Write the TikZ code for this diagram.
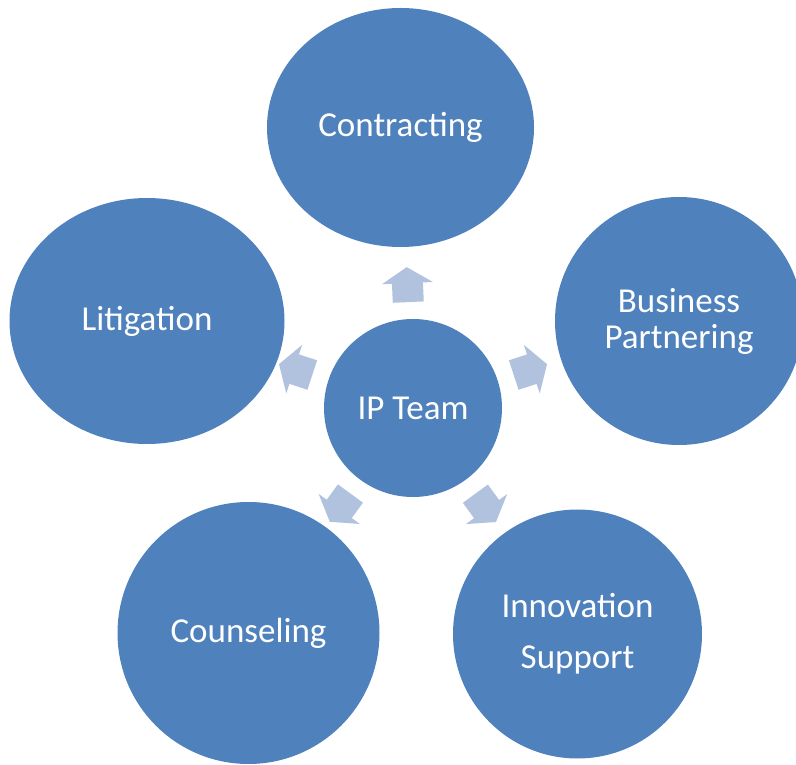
\documentclass[tikz,border=0pt]{standalone}
\usepackage{fontspec}
\setmainfont{Carlito}
\usetikzlibrary{shapes.geometric,calc}
\definecolor{bubblefill}{RGB}{79,129,189}
\definecolor{arrowfill}{RGB}{176,194,222}
\begin{document}
\begin{tikzpicture}[x=1pt,y=1pt,
    bubble/.style={fill=bubblefill,text=white,inner sep=0pt,align=center,
      font=\fontsize{35}{36}\selectfont},
    round/.style={bubble,circle,minimum size=#1},
    oval/.style={bubble,ellipse}]
  \clip (0,0) rectangle (796,764);
  \node[round=178pt] (team) at (413,356) {IP Team};
  \node[oval,minimum width=267pt,minimum height=239pt] (contr) at (400.5,636.5) {Contracting};
  \node[round=248pt] (busi) at (679,443) {Business\\Partnering};
  \node[round=249pt] (innov) at (577.5,130) {Innovation\\[15pt]Support};
  \node[round=262pt] (couns) at (248.5,131) {Counseling};
  \node[oval,minimum width=275pt,minimum height=246pt] (litig) at (147,443) {Litigation};
  % block arrows pointing out from the centre
  \foreach \s in {contr,busi,innov,couns,litig}
    \fill[arrowfill] let \p1=($(\s)-(team)$), \n1={atan2(\y1,\x1)} in
      [shift={(team)},rotate=\n1]
      (106,-15.5) -- (125,-15.5) -- (125,-25.5) -- (141,0)
      -- (125,25.5) -- (125,15.5) -- (106,15.5) -- cycle;
\end{tikzpicture}
\end{document}
